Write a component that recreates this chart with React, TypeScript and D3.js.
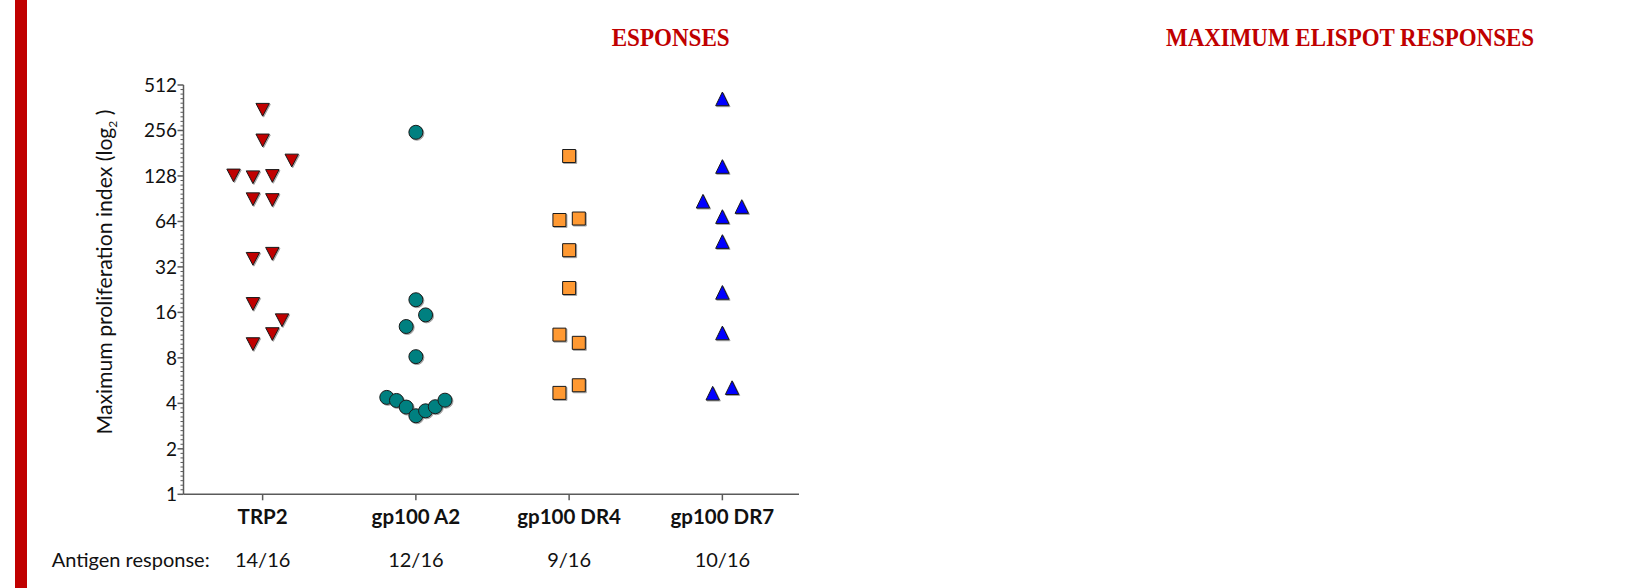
import React from "react";
import * as d3 from "d3";

const categories = ["TRP2", "gp100 A2", "gp100 DR4", "gp100 DR7"];
const responses = ["14/16", "12/16", "9/16", "10/16"];
const responseLabel = "Antigen response:";
const yTickValues = [1, 2, 4, 8, 16, 32, 64, 128, 256, 512];
const yTitle = "Maximum proliferation index (log";
const titleLeft = "ESPONSES";
const titleRight = "MAXIMUM ELISPOT RESPONSES";

const trp2Values = [351, 220, 162, 129, 125.5, 128, 89.8, 88.7, 36.2, 39.1, 18.2, 14.2, 11.5, 9.87];
const trp2Slots = [0, 0, 3, -3, -1, 1, -1, 1, -1, 1, -1, 2, 1, -1];
const a2Values = [249, 19.4, 15.4, 12.9, 8.15, 4.38, 4.18, 3.78, 3.31, 3.57, 3.8, 4.2];
const a2Slots = [0, 0, 1, -1, 0, -3, -2, -1, 0, 1, 2, 3];
const dr4Values = [173.5, 65.4, 66.9, 41.3, 23.2, 11.4, 10.06, 5.27, 4.69];
const dr4Slots = [0, -1, 1, 0, 0, -1, 1, 1, -1];
const dr7Values = [414.5, 147.8, 87.1, 80.3, 68.9, 47.1, 21.7, 11.7, 4.67, 5.08];
const dr7Slots = [0, 0, -2, 2, 0, 0, 0, 0, -1, 1];

const W = 1648;
const H = 588;
const FONT = "Lato, 'Open Sans', sans-serif";
const RED = "#c00000";
const AXIS = "#5a5a5a";

const triDown = {
  draw(ctx: any, size: number) {
    const w = Math.sqrt(size);
    const h = w * 0.95;
    ctx.moveTo(-w / 2, -h / 2);
    ctx.lineTo(w / 2, -h / 2);
    ctx.lineTo(0, h / 2);
    ctx.closePath();
  },
};
const triUp = {
  draw(ctx: any, size: number) {
    const w = Math.sqrt(size);
    const h = w * 1.02;
    ctx.moveTo(0, -h / 2);
    ctx.lineTo(w / 2, h / 2);
    ctx.lineTo(-w / 2, h / 2);
    ctx.closePath();
  },
};
const circ = {
  draw(ctx: any, size: number) {
    const r = Math.sqrt(size) / 2;
    ctx.moveTo(r, 0);
    ctx.arc(0, 0, r, 0, 2 * Math.PI);
  },
};
const sq = {
  draw(ctx: any, size: number) {
    const s = Math.sqrt(size);
    ctx.rect(-s / 2, -s / 2, s, s);
  },
};

const groups = [
  { cat: "TRP2", values: trp2Values, slots: trp2Slots, type: triDown, size: 13.4 * 13.4, fill: "#c00000" },
  { cat: "gp100 A2", values: a2Values, slots: a2Slots, type: circ, size: 14 * 14, fill: "#008080" },
  { cat: "gp100 DR4", values: dr4Values, slots: dr4Slots, type: sq, size: 13 * 13, fill: "#ff9933" },
  { cat: "gp100 DR7", values: dr7Values, slots: dr7Slots, type: triUp, size: 13.4 * 13.4, fill: "#0000ff" },
];

export default function App() {
  const y = d3.scaleLog().base(2).domain([1, 512]).range([494.3, 85]);
  const x = d3.scalePoint().domain(categories).range([186, 799]).padding(0.5);
  const axisX = 183.5;
  const slotUnit = 9.7;

  const minorTicks: number[] = [];
  for (let k = 0; k < 9; k++) {
    for (let i = 1; i < 10; i++) minorTicks.push(Math.pow(2, k + i / 10));
  }

  return (
    <div style={{ position: "fixed", left: 0, top: 0, width: W, height: H, background: "#fff" }}>
      <svg width={W} height={H} viewBox={`0 0 ${W} ${H}`} style={{ display: "block" }}>
        <defs>
          <filter id="shadow" x="-50%" y="-50%" width="200%" height="200%">
            <feDropShadow dx="1" dy="1" stdDeviation="0.6" floodColor="#000" floodOpacity="0.35" />
          </filter>
        </defs>
        <rect x={15} y={0} width={12} height={H} fill={RED} />

        <text x={611.7} y={45.5} fontFamily="'Liberation Serif', serif" fontWeight="bold" fontSize={25}
          fill={RED} textLength={118} lengthAdjust="spacingAndGlyphs">{titleLeft}</text>
        <text x={1166} y={45.5} fontFamily="'Liberation Serif', serif" fontWeight="bold" fontSize={25}
          fill={RED} textLength={368} lengthAdjust="spacingAndGlyphs">{titleRight}</text>

        {/* y axis */}
        <line x1={axisX} x2={axisX} y1={y(512)} y2={y(1)} stroke={AXIS} strokeWidth={1.5} />
        {minorTicks.map((v, i) => (
          <line key={"m" + i} x1={axisX - 3} x2={axisX} y1={y(v)} y2={y(v)} stroke={AXIS} strokeWidth={1} />
        ))}
        {yTickValues.map((v) => (
          <g key={"t" + v}>
            <line x1={axisX - 6} x2={axisX} y1={y(v)} y2={y(v)} stroke={AXIS} strokeWidth={1.5} />
            <text x={177} y={y(v)} dy="0.36em" textAnchor="end" fontFamily={FONT} fontSize={19} fill="#111">{v}</text>
          </g>
        ))}
        <text transform={`translate(112,272) rotate(-90)`} textAnchor="middle" fontFamily={FONT} fontSize={21.2} fill="#111">
          {yTitle}
          <tspan fontSize={12} dy={5}>2</tspan>
          <tspan dy={-5}> )</tspan>
        </text>

        {/* x axis */}
        <line x1={axisX} x2={799} y1={y(1)} y2={y(1)} stroke={AXIS} strokeWidth={1.5} />
        {categories.map((c, i) => (
          <g key={c}>
            <line x1={x(c)} x2={x(c)} y1={y(1)} y2={y(1) + 6} stroke={AXIS} strokeWidth={1.5} />
            <text x={x(c)} y={524} textAnchor="middle" fontFamily={FONT} fontWeight="bold" fontSize={20.5} fill="#111">{c}</text>
            <text x={x(c)} y={567.3} textAnchor="middle" fontFamily={FONT} fontSize={20} fill="#111">{responses[i]}</text>
          </g>
        ))}
        <text x={51.7} y={567.3} fontFamily={FONT} fontSize={20} fill="#111">{responseLabel}</text>

        {/* points */}
        {groups.map((g) => {
          const sym = d3.symbol().type(g.type as any).size(g.size);
          return (
            <g key={g.cat} filter="url(#shadow)">
              {g.values.map((v, i) => (
                <path key={i} d={sym() as string}
                  transform={`translate(${(x(g.cat) as number) + g.slots[i] * slotUnit},${y(v)})`}
                  fill={g.fill} stroke="#1a1a1a" strokeWidth={1} />
              ))}
            </g>
          );
        })}
      </svg>
    </div>
  );
}
